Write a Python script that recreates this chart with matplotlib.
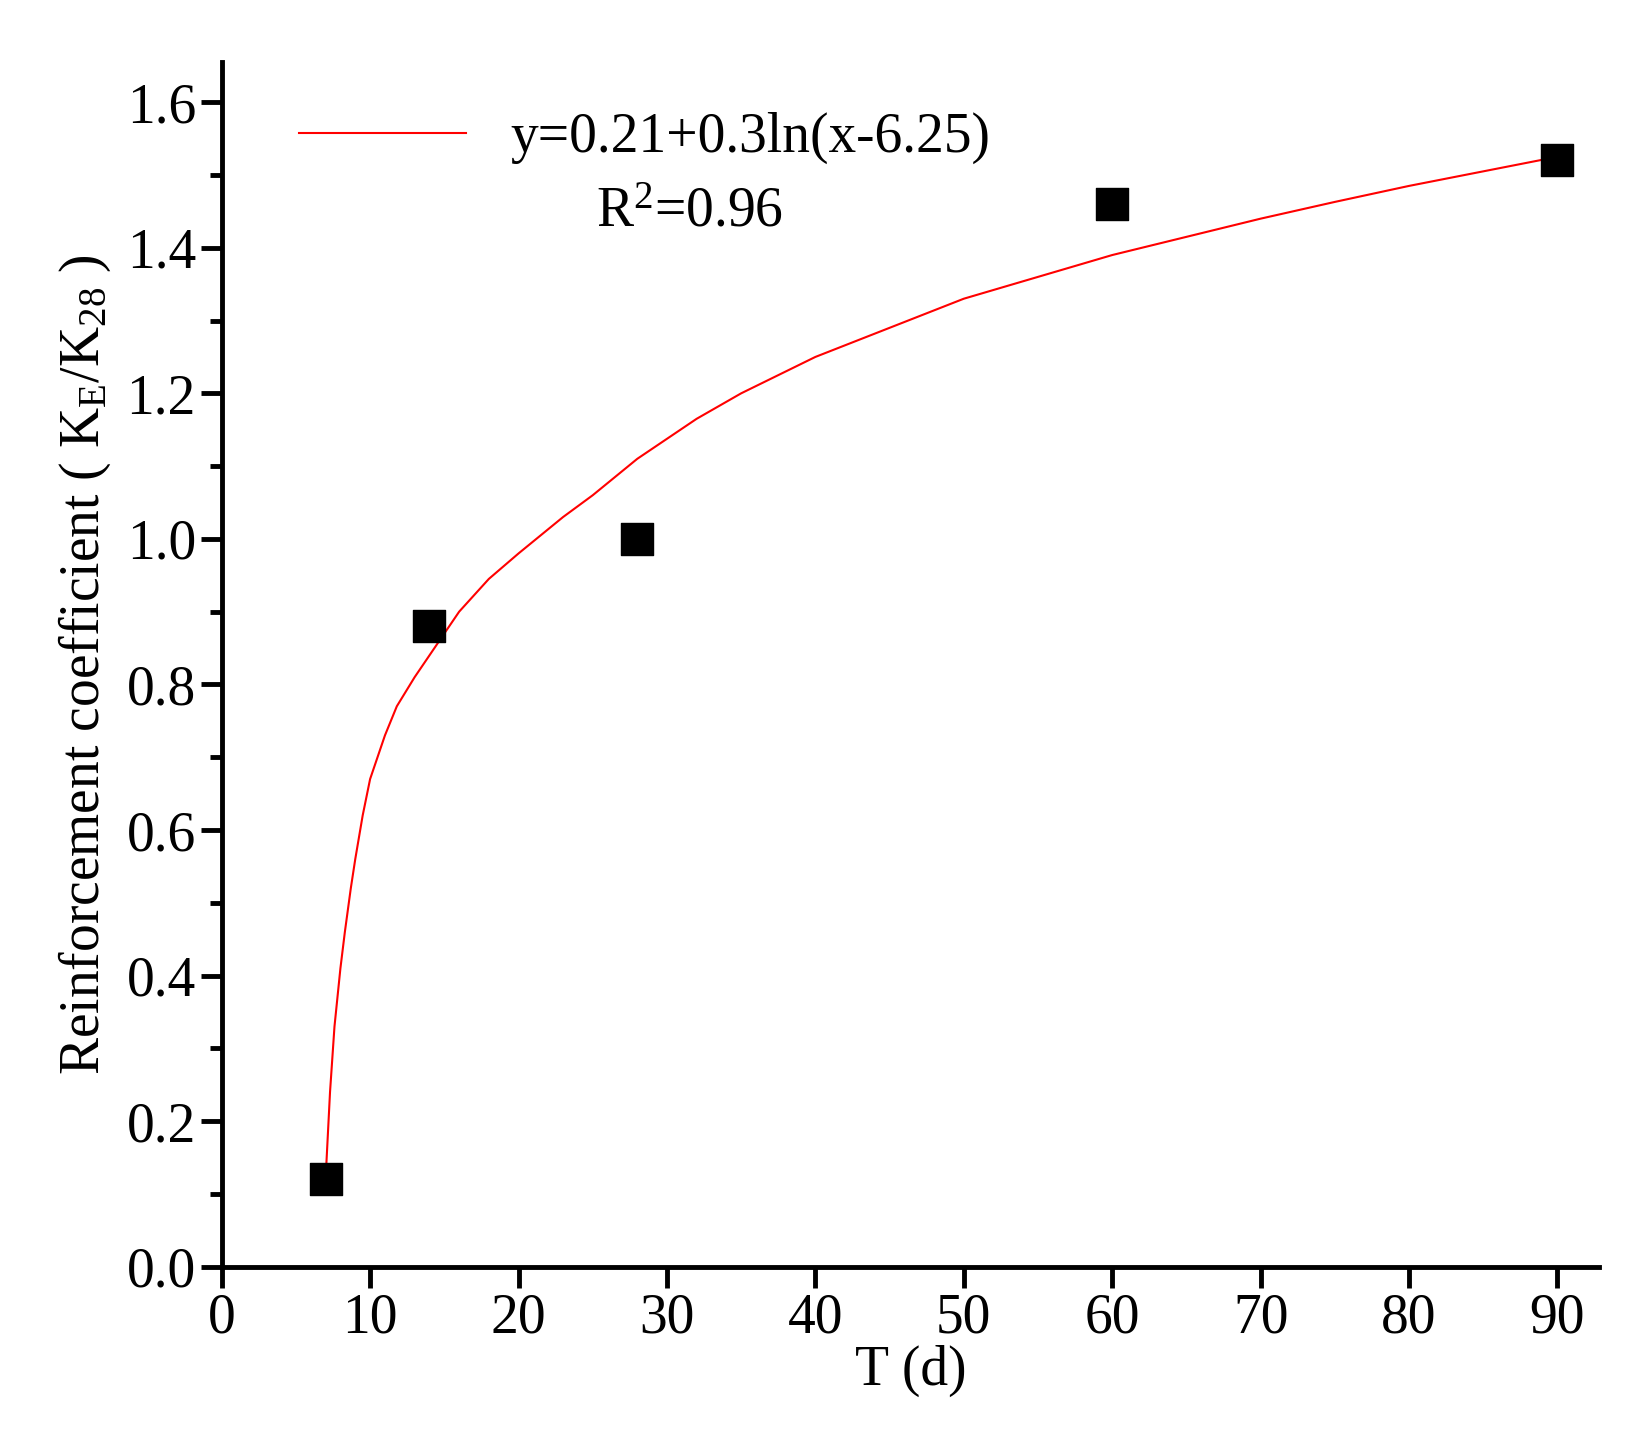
import matplotlib
matplotlib.use('Agg')
import matplotlib.pyplot as plt
from matplotlib.ticker import MultipleLocator

plt.rcParams['font.family'] = ['Liberation Serif', 'Noto Sans CJK SC']
plt.rcParams['mathtext.fontset'] = 'custom'
plt.rcParams['mathtext.rm'] = 'Liberation Serif'
plt.rcParams['mathtext.it'] = 'Liberation Serif'

# measured points
t_days = [7, 14, 28, 60, 90]
coef = [0.12, 0.88, 1.0, 1.46, 1.52]

# fitted curve
fit_x = [7, 7.3, 7.6, 8.0, 8.3, 8.7, 9, 9.5, 10, 11, 11.8, 13, 14, 16, 18, 20,
         23, 25, 28, 32, 35, 40, 45, 50, 55, 60, 65, 70, 75, 80, 85, 90]
fit_y = [0.12, 0.24, 0.33, 0.41, 0.46, 0.52, 0.56, 0.62, 0.67, 0.73, 0.77,
         0.81, 0.84, 0.90, 0.945, 0.98, 1.03, 1.06, 1.11, 1.165, 1.20, 1.25,
         1.29, 1.33, 1.36, 1.39, 1.415, 1.44, 1.463, 1.485, 1.505, 1.525]

fig = plt.figure(figsize=(16.3, 14.46), dpi=100)
ax = fig.add_axes([0.136, 0.124, 0.845, 0.833])

ax.plot(fit_x, fit_y, color='red', lw=1.5, label='y=0.21+0.3ln(x-6.25)')
ax.scatter(t_days, coef, marker='s', s=500, color='black', zorder=5)

ax.set_xlim(0, 92.8)
ax.set_ylim(0, 1.655)
ax.xaxis.set_major_locator(MultipleLocator(10))
ax.yaxis.set_major_locator(MultipleLocator(0.2))
ax.yaxis.set_minor_locator(MultipleLocator(0.1))
ax.yaxis.set_major_formatter(plt.FuncFormatter(lambda v, p: f'{v:.1f}'))

for s in ['top', 'right']:
    ax.spines[s].set_visible(False)
for s in ['left', 'bottom']:
    ax.spines[s].set_linewidth(3.5)
ax.tick_params(which='major', direction='out', length=15, width=3.5, labelsize=40)
ax.tick_params(which='minor', direction='out', length=9, width=3.5)

ax.set_xlabel('T (d)', fontsize=40, labelpad=0)
ax.set_ylabel(r'Reinforcement coefficient ( K$_\mathrm{E}$/K$_{28}$ )',
              fontsize=40, labelpad=10)

ax.legend(loc='upper left', bbox_to_anchor=(0.02, 1.0), frameon=False,
          fontsize=40, handlelength=3.0)
ax.text(0.34, 0.875, 'R$^2$=0.96', transform=ax.transAxes, fontsize=40,
        ha='center', va='center')

fig.savefig('out.png', dpi=100)
